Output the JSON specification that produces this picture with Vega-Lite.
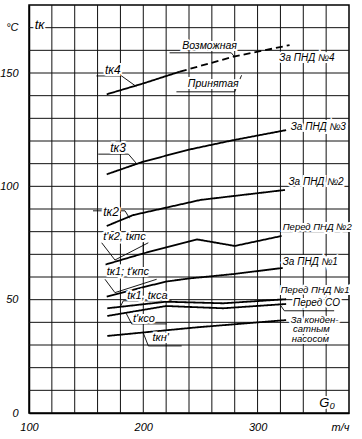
{
  "$schema": "https://vega.github.io/schema/vega-lite/v6.json",
  "width": 320,
  "height": 408,
  "autosize": "none",
  "padding": {"left": 29, "top": 5, "right": 13, "bottom": 26},
  "background": "white",
  "config": {
    "view": {"stroke": "#000", "strokeWidth": 1.5},
    "font": "Liberation Sans",
    "axis": {
      "labelFont": "Liberation Sans",
      "labelFontStyle": "italic",
      "labelFontSize": 11,
      "labelColor": "#000",
      "domainColor": "#000",
      "domainWidth": 1.5,
      "tickSize": 0,
      "grid": false,
      "title": null
    }
  },
  "datasets": {
    "vgrid": [
      {"x": 120, "y": 0, "y2": 180}, {"x": 140, "y": 0, "y2": 180}, {"x": 160, "y": 0, "y2": 180},
      {"x": 180, "y": 0, "y2": 180}, {"x": 200, "y": 0, "y2": 180}, {"x": 220, "y": 0, "y2": 180},
      {"x": 240, "y": 0, "y2": 180}, {"x": 260, "y": 0, "y2": 180}, {"x": 280, "y": 0, "y2": 180},
      {"x": 300, "y": 0, "y2": 180}, {"x": 320, "y": 0, "y2": 180}, {"x": 340, "y": 0, "y2": 180},
      {"x": 360, "y": 0, "y2": 180}
    ],
    "hgrid": [
      {"y": 10, "x": 100, "x2": 380}, {"y": 20, "x": 100, "x2": 380}, {"y": 30, "x": 100, "x2": 380},
      {"y": 40, "x": 100, "x2": 380}, {"y": 50, "x": 100, "x2": 380}, {"y": 60, "x": 100, "x2": 380},
      {"y": 70, "x": 100, "x2": 380}, {"y": 80, "x": 100, "x2": 380}, {"y": 90, "x": 100, "x2": 380},
      {"y": 100, "x": 100, "x2": 380}, {"y": 110, "x": 100, "x2": 380}, {"y": 120, "x": 100, "x2": 380},
      {"y": 130, "x": 100, "x2": 380}, {"y": 140, "x": 100, "x2": 380}, {"y": 150, "x": 100, "x2": 380},
      {"y": 160, "x": 100, "x2": 380}, {"y": 170, "x": 100, "x2": 380}
    ],
    "curves": [
      {"s": "k4a", "d": "solid", "x": 168, "y": 140.6},
      {"s": "k4a", "d": "solid", "x": 200, "y": 145.4},
      {"s": "k4a", "d": "solid", "x": 232, "y": 150.6},
      {"s": "k4b", "d": "dashed", "x": 232, "y": 150.6},
      {"s": "k4b", "d": "dashed", "x": 279, "y": 157.2},
      {"s": "k4b", "d": "dashed", "x": 328, "y": 162.3},
      {"s": "k3", "d": "solid", "x": 168, "y": 105.3},
      {"s": "k3", "d": "solid", "x": 200, "y": 110.9},
      {"s": "k3", "d": "solid", "x": 241, "y": 116.3},
      {"s": "k3", "d": "solid", "x": 279, "y": 120.4},
      {"s": "k3", "d": "solid", "x": 325, "y": 124.8},
      {"s": "k2", "d": "solid", "x": 168, "y": 82.5},
      {"s": "k2", "d": "solid", "x": 191, "y": 87.3},
      {"s": "k2", "d": "solid", "x": 250, "y": 94.0},
      {"s": "k2", "d": "solid", "x": 324, "y": 98.4},
      {"s": "k2p", "d": "solid", "x": 167, "y": 65.5},
      {"s": "k2p", "d": "solid", "x": 200, "y": 70.4},
      {"s": "k2p", "d": "solid", "x": 247, "y": 76.6},
      {"s": "k2p", "d": "solid", "x": 280, "y": 73.7},
      {"s": "k2p", "d": "solid", "x": 321, "y": 78.1},
      {"s": "k1", "d": "solid", "x": 168, "y": 51.3},
      {"s": "k1", "d": "solid", "x": 200, "y": 55.5},
      {"s": "k1", "d": "solid", "x": 220, "y": 58.0},
      {"s": "k1", "d": "solid", "x": 241, "y": 59.4},
      {"s": "k1", "d": "solid", "x": 279, "y": 61.3},
      {"s": "k1", "d": "solid", "x": 322, "y": 64.0},
      {"s": "kca", "d": "solid", "x": 168.5, "y": 46.2},
      {"s": "kca", "d": "solid", "x": 220, "y": 49.1},
      {"s": "kca", "d": "solid", "x": 270, "y": 48.4},
      {"s": "kca", "d": "solid", "x": 325, "y": 50.2},
      {"s": "kco", "d": "solid", "x": 168.5, "y": 42.8},
      {"s": "kco", "d": "solid", "x": 220, "y": 47.2},
      {"s": "kco", "d": "solid", "x": 270, "y": 46.2},
      {"s": "kco", "d": "solid", "x": 325, "y": 48.1},
      {"s": "kn", "d": "solid", "x": 168.5, "y": 34.0},
      {"s": "kn", "d": "solid", "x": 247, "y": 37.8},
      {"s": "kn", "d": "solid", "x": 325, "y": 41.0}
    ],
    "leaders": [
      {"id": "L1", "x": 159, "y": 148.7}, {"id": "L1", "x": 181, "y": 148.7}, {"id": "L1", "x": 194, "y": 144},
      {"id": "L2", "x": 223, "y": 158.9}, {"id": "L2", "x": 277, "y": 158.9}, {"id": "L2", "x": 280, "y": 157},
      {"id": "L3", "x": 229, "y": 141.7}, {"id": "L3", "x": 280, "y": 141.7}, {"id": "L3", "x": 286, "y": 149},
      {"id": "L4", "x": 160.6, "y": 114.2}, {"id": "L4", "x": 187, "y": 114.2}, {"id": "L4", "x": 194, "y": 110.1},
      {"id": "L5", "x": 156, "y": 89.2}, {"id": "L5", "x": 184, "y": 89.2}, {"id": "L5", "x": 188, "y": 85.9},
      {"id": "L6", "x": 175.2, "y": 67.5}, {"id": "L6", "x": 163.6, "y": 75.1}, {"id": "L6", "x": 204.4, "y": 75.1},
      {"id": "L6c", "x": 200, "y": 75.1}, {"id": "L6c", "x": 200, "y": 70.4},
      {"id": "L7", "x": 175.2, "y": 53.1}, {"id": "L7", "x": 166.5, "y": 59}, {"id": "L7", "x": 211.7, "y": 59},
      {"id": "L8", "x": 179.6, "y": 46.6}, {"id": "L8", "x": 182.5, "y": 49.5}, {"id": "L8", "x": 224.8, "y": 49.5},
      {"id": "L9", "x": 185, "y": 44}, {"id": "L9", "x": 189.8, "y": 39.3}, {"id": "L9", "x": 220.5, "y": 39.3},
      {"id": "L10", "x": 200, "y": 35.3}, {"id": "L10", "x": 204.4, "y": 29.6}, {"id": "L10", "x": 233.6, "y": 29.6},
      {"id": "L11", "x": 320.5, "y": 47.2}, {"id": "L11", "x": 323.4, "y": 45.1}, {"id": "L11", "x": 367, "y": 45.1}
    ],
    "labels": [
      {"t": "Возможная", "x": 234, "y": 162.0, "fs": 10.5},
      {"t": "Принятая", "x": 239, "y": 145.1, "fs": 10.5},
      {"t": "tк4", "x": 166.5, "y": 151.3, "fs": 12},
      {"t": "За ПНД №4", "x": 319, "y": 156.6, "fs": 10},
      {"t": "За ПНД №3", "x": 329, "y": 126.2, "fs": 10},
      {"t": "tк3", "x": 171, "y": 116.9, "fs": 12},
      {"t": "За ПНД №2", "x": 327, "y": 101.9, "fs": 10},
      {"t": "tк2", "x": 165, "y": 88.7, "fs": 12},
      {"t": "Перед ПНД №2", "x": 322, "y": 82.0, "fs": 9.5},
      {"t": "t'к2, tкпс", "x": 165, "y": 77.6, "fs": 11},
      {"t": "За ПНД №1", "x": 322, "y": 66.6, "fs": 10},
      {"t": "tк1; t'кпс", "x": 168, "y": 62.2, "fs": 11},
      {"t": "Перед ПНД №1", "x": 320, "y": 54.3, "fs": 9.5},
      {"t": "tк1, tкса", "x": 186, "y": 51.6, "fs": 11},
      {"t": "Перед СО", "x": 331, "y": 48.5, "fs": 10},
      {"t": "t'ксо", "x": 191, "y": 41.5, "fs": 11},
      {"t": "За конден-", "x": 329, "y": 41.2, "fs": 9.5},
      {"t": "сатным", "x": 331, "y": 37.0, "fs": 9.5},
      {"t": "насосом", "x": 330, "y": 32.6, "fs": 9.5},
      {"t": "tкн'", "x": 208, "y": 33.1, "fs": 11},
      {"t": "G₀", "x": 354, "y": 4.6, "fs": 13},
      {"t": "tк", "x": 105, "y": 171, "fs": 13}
    ]
  },
  "encoding": {
    "x": {
      "field": "x", "type": "quantitative",
      "scale": {"domain": [100, 380], "nice": false, "zero": false},
      "axis": {
        "values": [100, 200, 300, 380],
        "labelExpr": "datum.value == 380 ? 'т/ч' : datum.label",
        "labelAlign": {"condition": {"test": "datum.value == 380", "value": "right"}, "value": "center"},
        "labelPadding": 8,
        "labelOverlap": false,
        "labelFlush": false
      }
    },
    "y": {
      "field": "y", "type": "quantitative",
      "scale": {"domain": [0, 180], "nice": false},
      "axis": {
        "values": [0, 50, 100, 150, 170],
        "labelExpr": "datum.value == 170 ? '°C' : datum.label",
        "labelPadding": 11,
        "labelOverlap": false,
        "labelFlush": false
      }
    }
  },
  "layer": [
    {
      "data": {"name": "vgrid"},
      "mark": {"type": "rule", "color": "#111", "strokeWidth": 1},
      "encoding": {"y2": {"field": "y2"}}
    },
    {
      "data": {"name": "hgrid"},
      "mark": {"type": "rule", "color": "#111", "strokeWidth": 1},
      "encoding": {"x2": {"field": "x2"}}
    },
    {
      "data": {"name": "curves"},
      "mark": {"type": "line", "color": "#000", "strokeWidth": 1.8},
      "encoding": {
        "detail": {"field": "s"},
        "strokeDash": {
          "field": "d", "type": "nominal",
          "scale": {"domain": ["solid", "dashed"], "range": [[1, 0], [7, 4]]},
          "legend": null
        }
      }
    },
    {
      "data": {"name": "leaders"},
      "mark": {"type": "line", "color": "#000", "strokeWidth": 0.9},
      "encoding": {
        "detail": {"field": "id"}
      }
    },
    {
      "data": {"name": "labels"},
      "mark": {"type": "text", "align": "left", "baseline": "middle", "fontStyle": "italic", "stroke": "white", "strokeWidth": 4, "fill": "white"},
      "encoding": {
        "text": {"field": "t"},
        "size": {"field": "fs", "type": "quantitative", "scale": null}
      }
    },
    {
      "data": {"name": "labels"},
      "mark": {"type": "text", "align": "left", "baseline": "middle", "fontStyle": "italic", "color": "#000"},
      "encoding": {
        "text": {"field": "t"},
        "size": {"field": "fs", "type": "quantitative", "scale": null}
      }
    }
  ]
}
